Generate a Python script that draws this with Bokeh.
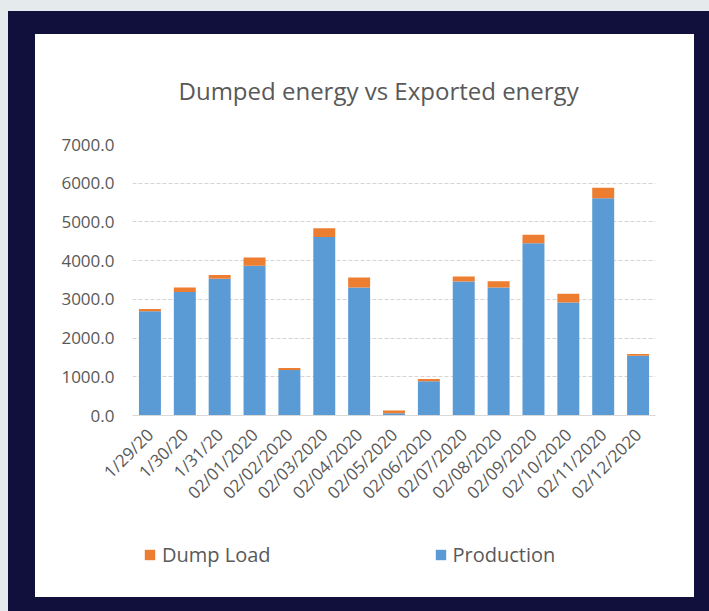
import math
from bokeh.plotting import figure
from bokeh.models import (ColumnDataSource, FactorRange, Range1d, Legend, LegendItem,
                          NumeralTickFormatter, FixedTicker, Column)
from bokeh.embed import file_html
from bokeh.resources import INLINE

dates = ["1/29/20", "1/30/20", "1/31/20", "02/01/2020", "02/02/2020", "02/03/2020",
         "02/04/2020", "02/05/2020", "02/06/2020", "02/07/2020", "02/08/2020",
         "02/09/2020", "02/10/2020", "02/11/2020", "02/12/2020"]
production = [2690, 3190, 3530, 3865, 1177, 4610, 3305, 60, 885, 3460, 3305, 4450, 2920, 5610, 1546]
dump_load = [60, 115, 100, 215, 50, 225, 260, 70, 60, 130, 165, 222, 223, 274, 43]
y_ticks = [0, 1000, 2000, 3000, 4000, 5000, 6000, 7000]
series_labels = ["Dump Load", "Production"]

BLUE = "#5b9bd5"
ORANGE = "#ed7d31"
TXT = "#595959"
FONT = "Open Sans"

source = ColumnDataSource(dict(dates=dates, production=production, dump_load=dump_load))

p = figure(x_range=FactorRange(factors=dates), y_range=Range1d(0, 7000),
           width=659, height=503, output_backend="svg", toolbar_location=None,
           min_border_left=97, min_border_right=39, min_border_top=109, min_border_bottom=122,
           background_fill_color=None, border_fill_color=None)
p.outline_line_color = None

p.title.text = "Dumped energy vs Exported energy"
p.title.align = "left"
p.title.text_font = FONT
p.title.text_font_size = "24px"
p.title.text_font_style = "normal"
p.title.text_color = TXT
p.title.text_line_height = 0.9
p.title.standoff = 75
p.title.offset = 46

rs = p.vbar_stack(["production", "dump_load"], x="dates", width=0.63,
                  color=[BLUE, ORANGE], line_color=None, source=source)

p.yaxis.ticker = FixedTicker(ticks=y_ticks)
p.yaxis.formatter = NumeralTickFormatter(format="0.0")
p.yaxis.axis_line_color = None
p.yaxis.major_tick_line_color = None
p.yaxis.minor_tick_line_color = None
p.yaxis.major_label_text_font = FONT
p.yaxis.major_label_text_font_size = "17px"
p.yaxis.major_label_text_color = TXT
p.yaxis.major_label_standoff = 12

p.xaxis.axis_line_color = "#d9d9d9"
p.xaxis.major_tick_line_color = None
p.xaxis.minor_tick_line_color = None
p.xaxis.major_label_orientation = math.pi / 4
p.xaxis.major_label_text_font = FONT
p.xaxis.major_label_text_font_size = "17px"
p.xaxis.major_label_text_color = TXT
p.xaxis.major_label_standoff = 10

p.xgrid.grid_line_color = None
p.ygrid.grid_line_color = "#d4d4d4"
p.ygrid.grid_line_dash = "4 2"
p.ygrid.grid_line_width = 1

# legend strip below the chart (zero-size swatch bars only feed the legend)
leg = figure(width=659, height=60, x_range=Range1d(0, 1), y_range=Range1d(0, 1),
             output_backend="svg", toolbar_location=None,
             min_border_left=97, min_border_right=39, min_border_top=0, min_border_bottom=0,
             background_fill_color=None, border_fill_color=None)
leg.outline_line_color = None
leg.axis.visible = False
leg.grid.visible = False
r_dump = leg.vbar(x=[0.5], top=[0], bottom=[0], width=0, color=ORANGE, line_color=None)
r_prod = leg.vbar(x=[0.5], top=[0], bottom=[0], width=0, color=BLUE, line_color=None)
legend = Legend(items=[LegendItem(label=series_labels[0], renderers=[r_dump]),
                       LegendItem(label=series_labels[1], renderers=[r_prod])],
                orientation="horizontal", location=(11, 29),
                padding=0, margin=0, spacing=163, border_line_color=None,
                background_fill_alpha=0, glyph_width=13, glyph_height=13,
                label_height=13, label_standoff=6,
                label_text_font=FONT, label_text_font_size="20px", label_text_color=TXT)
leg.add_layout(legend)

panel = Column(children=[p, leg], styles={"background-color": "white"})
inner = Column(children=[panel], styles={"background-color": "#11103d",
                                         "padding": "23px 15px 14px 27px"})
outer = Column(children=[inner], styles={"background-color": "#e5eaed",
                                         "padding": "11px 0px 0px 8px"})

open("out.html", "w").write(file_html(outer, INLINE))
